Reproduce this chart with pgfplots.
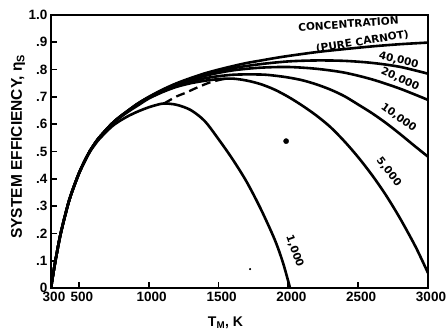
\documentclass[border=0pt]{standalone}
\usepackage{fontspec}
\setmainfont{Liberation Sans}
\newfontfamily\lab{DejaVu Sans}
\usepackage{pgfplots}
\pgfplotsset{compat=1.18}
\begin{document}
\begin{tikzpicture}[curve/.style={black, line width=2.6pt, smooth, tension=0.5, mark=none},
  lbl/.style={font=\lab\bfseries\fontsize{10.5}{12}\selectfont}]
\begin{axis}[
  scale only axis, width=377pt, height=273pt,
  xmin=300, xmax=3000, ymin=0, ymax=1,
  clip mode=individual,
  axis line style={line width=2.5pt},
  xtick={300,500,1000,1500,2000,2500,3000},
  xticklabels={300,500,1000,1500,2000,2500,3000},
  ytick={0,0.1,0.2,0.3,0.4,0.5,0.6,0.7,0.8,0.9,1.0},
  yticklabels={0,.1,.2,.3,.4,.5,.6,.7,.8,.9,1.0},
  tick align=inside, xtick pos=bottom, ytick pos=left,
  major tick length=6pt,
  tick style={line width=1.8pt, black},
  ticklabel style={font=\bfseries\fontsize{13.5}{14}\selectfont},
  xticklabel style={yshift=-1pt, xshift=3pt},
  /pgf/number format/assume math mode=true,
]
% pure Carnot
\addplot[curve] coordinates {(300,0)(320,0.065)(340,0.123)(370,0.201)(420,0.303)(450,0.352)(500,0.42)(540,0.464)(580,0.503)(620,0.534)(650,0.554)(730,0.599)(780,0.622)(850,0.649)(920,0.675)(1000,0.7)(1100,0.727)(1200,0.75)(1300,0.769)(1400,0.786)(1500,0.8)(1600,0.8125)(1700,0.824)(1800,0.833)(1900,0.842)(2000,0.85)(2200,0.864)(2400,0.875)(2600,0.885)(2800,0.893)(3000,0.899)};
% 40,000
\addplot[curve] coordinates {(300,0)(320,0.065)(340,0.123)(370,0.201)(420,0.303)(450,0.352)(500,0.42)(540,0.464)(580,0.503)(620,0.534)(650,0.554)(730,0.599)(780,0.622)(850,0.649)(920,0.675)(1000,0.699)(1100,0.725)(1200,0.748)(1400,0.781)(1600,0.805)(1800,0.82)(2000,0.83)(2200,0.8335)(2400,0.832)(2600,0.8245)(2800,0.81)(3000,0.785)};
% 20,000
\addplot[curve] coordinates {(300,0)(320,0.065)(340,0.123)(370,0.201)(420,0.303)(450,0.352)(500,0.42)(540,0.464)(580,0.503)(620,0.534)(650,0.554)(730,0.599)(780,0.622)(850,0.649)(920,0.674)(1000,0.698)(1200,0.745)(1400,0.777)(1600,0.797)(1800,0.807)(2000,0.8095)(2200,0.803)(2400,0.789)(2600,0.764)(2800,0.73)(3000,0.689)};
% 10,000
\addplot[curve] coordinates {(300,0)(320,0.065)(340,0.123)(370,0.201)(420,0.303)(450,0.352)(500,0.42)(540,0.464)(580,0.503)(620,0.534)(650,0.554)(730,0.599)(780,0.621)(850,0.647)(920,0.672)(1000,0.696)(1200,0.741)(1400,0.768)(1600,0.781)(1800,0.782)(1900,0.778)(2000,0.771)(2100,0.761)(2200,0.746)(2300,0.727)(2400,0.703)(2500,0.672)(2600,0.64)(2700,0.604)(2800,0.564)(2900,0.522)(3000,0.481)};
% 5,000
\addplot[curve] coordinates {(300,0)(320,0.065)(340,0.123)(370,0.201)(420,0.303)(450,0.352)(500,0.42)(540,0.464)(580,0.503)(620,0.534)(650,0.554)(730,0.597)(780,0.619)(850,0.645)(920,0.668)(1000,0.694)(1100,0.718)(1200,0.737)(1300,0.75)(1400,0.759)(1500,0.765)(1600,0.767)(1700,0.76)(1800,0.747)(1900,0.727)(2000,0.7)(2100,0.668)(2200,0.632)(2300,0.59)(2400,0.538)(2500,0.479)(2600,0.413)(2700,0.339)(2800,0.255)(2900,0.162)(2950,0.11)(3000,0.055)};
% 1,000
\addplot[curve] coordinates {(300,0)(320,0.065)(340,0.123)(370,0.201)(420,0.302)(450,0.351)(500,0.418)(540,0.462)(580,0.5)(620,0.529)(650,0.548)(730,0.589)(780,0.608)(850,0.629)(920,0.646)(1000,0.662)(1060,0.671)(1110,0.676)(1200,0.671)(1300,0.652)(1400,0.612)(1500,0.545)(1600,0.472)(1700,0.39)(1800,0.292)(1900,0.18)(1960,0.095)(2012,0)};
% locus of maxima (dashed)
\addplot[curve, dash pattern=on 9pt off 5pt, line width=2.3pt] coordinates {(1110,0.676)(1200,0.702)(1260,0.714)(1350,0.735)(1450,0.755)(1560,0.768)};
% specks of the scan
\addplot[black, only marks, mark=*, mark size=2.6pt] coordinates {(1984,0.538)};
\addplot[black, only marks, mark=*, mark size=0.8pt] coordinates {(1726,0.069)};
% labels
\node[lbl, rotate=4] at (axis cs:2430,0.967) {CONCENTRATION};
\node[lbl, rotate=9] at (axis cs:2530,0.902) {(PURE CARNOT)};
\node[lbl, rotate=-14] at (axis cs:2790,0.834) {40,000};
\node[lbl, rotate=-24] at (axis cs:2800,0.766) {20,000};
\node[lbl, rotate=-36] at (axis cs:2790,0.624) {10,000};
\node[lbl, rotate=-52] at (axis cs:2720,0.425) {5,000};
\node[lbl, rotate=-70] at (axis cs:2045,0.135) {1,000};
\node[font=\bfseries\fontsize{15.5}{16}\selectfont, rotate=90] at ([xshift=-33pt]axis cs:300,0.518) {SYSTEM EFFICIENCY, η\textsubscript{S}};
\node[font=\bfseries\fontsize{14}{15}\selectfont] at ([yshift=-35pt]axis cs:1550,0) {T\textsubscript{M}, K};
\end{axis}
\pgfresetboundingbox
\path[use as bounding box] (-51pt,-46pt) rectangle (395pt,288pt);
\end{tikzpicture}
\end{document}
